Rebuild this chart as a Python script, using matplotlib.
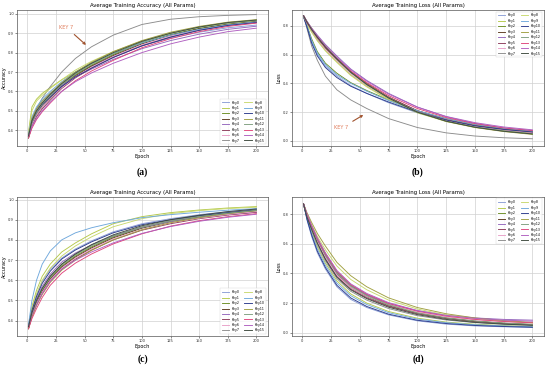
import matplotlib
matplotlib.use('Agg')
import matplotlib.pyplot as plt

# 采样的 epoch 位置
epochs = [1, 4, 8, 13, 20, 30, 42, 56, 75, 100, 125, 150, 175, 200]

keys = ['Key%d' % i for i in range(16)]
colors = ['#8c9fd6', '#b5c94a', '#6b8e23', '#5c3a1e', '#9467bd', '#8c3b5a', '#e8a0c8', '#8c8c8c',
          '#c8d96f', '#6fa8dc', '#2b3a8c', '#a0a040', '#7f9f7f', '#e0457b', '#b05fc0', '#3d4a3d']

# (a) 准确率
acc_a = [
    [0.38, 0.46, 0.51, 0.55, 0.59, 0.64, 0.69, 0.73, 0.78, 0.835, 0.875, 0.905, 0.928, 0.942],
    [0.39, 0.52, 0.56, 0.59, 0.62, 0.66, 0.70, 0.745, 0.795, 0.85, 0.89, 0.92, 0.942, 0.955],
    [0.37, 0.44, 0.49, 0.53, 0.57, 0.63, 0.685, 0.735, 0.79, 0.85, 0.893, 0.925, 0.948, 0.962],
    [0.36, 0.43, 0.48, 0.52, 0.565, 0.625, 0.68, 0.73, 0.785, 0.845, 0.89, 0.923, 0.945, 0.96],
    [0.37, 0.45, 0.50, 0.54, 0.58, 0.63, 0.675, 0.715, 0.765, 0.82, 0.862, 0.895, 0.92, 0.936],
    [0.36, 0.42, 0.47, 0.51, 0.555, 0.615, 0.67, 0.72, 0.775, 0.835, 0.88, 0.915, 0.94, 0.955],
    [0.37, 0.43, 0.48, 0.52, 0.565, 0.62, 0.675, 0.725, 0.78, 0.84, 0.885, 0.918, 0.942, 0.957],
    [0.37, 0.45, 0.51, 0.565, 0.625, 0.70, 0.77, 0.83, 0.89, 0.945, 0.972, 0.985, 0.992, 0.996],
    [0.38, 0.50, 0.55, 0.58, 0.615, 0.66, 0.71, 0.755, 0.805, 0.86, 0.90, 0.93, 0.952, 0.966],
    [0.38, 0.47, 0.52, 0.56, 0.60, 0.65, 0.70, 0.745, 0.795, 0.85, 0.89, 0.92, 0.943, 0.958],
    [0.37, 0.44, 0.49, 0.53, 0.57, 0.625, 0.675, 0.72, 0.775, 0.835, 0.88, 0.915, 0.94, 0.955],
    [0.37, 0.46, 0.51, 0.55, 0.59, 0.645, 0.70, 0.75, 0.805, 0.862, 0.905, 0.935, 0.957, 0.97],
    [0.36, 0.44, 0.49, 0.535, 0.58, 0.635, 0.69, 0.74, 0.795, 0.855, 0.898, 0.93, 0.952, 0.966],
    [0.36, 0.41, 0.455, 0.495, 0.54, 0.60, 0.655, 0.705, 0.76, 0.825, 0.872, 0.908, 0.935, 0.952],
    [0.37, 0.42, 0.46, 0.50, 0.545, 0.60, 0.65, 0.695, 0.745, 0.80, 0.845, 0.88, 0.908, 0.926],
    [0.37, 0.45, 0.50, 0.54, 0.585, 0.64, 0.695, 0.745, 0.80, 0.858, 0.90, 0.932, 0.955, 0.968],
]

# (b) 损失
loss_b = [
    [0.87, 0.79, 0.69, 0.60, 0.52, 0.45, 0.385, 0.33, 0.265, 0.195, 0.14, 0.10, 0.075, 0.06],
    [0.87, 0.81, 0.76, 0.70, 0.63, 0.55, 0.46, 0.38, 0.29, 0.20, 0.14, 0.10, 0.075, 0.056],
    [0.87, 0.80, 0.71, 0.62, 0.54, 0.47, 0.405, 0.35, 0.285, 0.21, 0.155, 0.113, 0.085, 0.068],
    [0.86, 0.82, 0.77, 0.71, 0.645, 0.565, 0.475, 0.395, 0.302, 0.208, 0.145, 0.105, 0.078, 0.058],
    [0.87, 0.83, 0.785, 0.735, 0.67, 0.59, 0.50, 0.42, 0.33, 0.235, 0.168, 0.122, 0.09, 0.07],
    [0.87, 0.825, 0.78, 0.725, 0.655, 0.575, 0.485, 0.40, 0.305, 0.21, 0.148, 0.106, 0.078, 0.058],
    [0.87, 0.815, 0.765, 0.705, 0.635, 0.555, 0.465, 0.385, 0.295, 0.203, 0.142, 0.102, 0.076, 0.057],
    [0.87, 0.78, 0.66, 0.56, 0.45, 0.355, 0.285, 0.225, 0.155, 0.093, 0.056, 0.034, 0.022, 0.015],
    [0.87, 0.81, 0.755, 0.695, 0.625, 0.545, 0.455, 0.375, 0.285, 0.195, 0.135, 0.095, 0.068, 0.05],
    [0.87, 0.80, 0.70, 0.61, 0.53, 0.46, 0.40, 0.345, 0.28, 0.21, 0.155, 0.115, 0.088, 0.07],
    [0.86, 0.79, 0.68, 0.59, 0.51, 0.44, 0.38, 0.33, 0.27, 0.20, 0.145, 0.105, 0.08, 0.062],
    [0.87, 0.83, 0.78, 0.725, 0.66, 0.575, 0.48, 0.395, 0.30, 0.20, 0.135, 0.093, 0.065, 0.045],
    [0.86, 0.82, 0.77, 0.715, 0.65, 0.565, 0.475, 0.39, 0.298, 0.20, 0.138, 0.097, 0.07, 0.05],
    [0.87, 0.82, 0.775, 0.72, 0.65, 0.57, 0.485, 0.405, 0.315, 0.225, 0.162, 0.12, 0.09, 0.072],
    [0.87, 0.83, 0.78, 0.73, 0.66, 0.58, 0.495, 0.415, 0.325, 0.235, 0.17, 0.127, 0.097, 0.077],
    [0.87, 0.825, 0.775, 0.72, 0.652, 0.57, 0.478, 0.392, 0.298, 0.20, 0.137, 0.095, 0.067, 0.048],
]

# (c) 准确率
acc_c = [
    [0.38, 0.46, 0.53, 0.595, 0.655, 0.71, 0.755, 0.795, 0.84, 0.88, 0.905, 0.925, 0.94, 0.952],
    [0.37, 0.47, 0.55, 0.62, 0.68, 0.74, 0.785, 0.83, 0.88, 0.915, 0.935, 0.948, 0.958, 0.965],
    [0.37, 0.43, 0.49, 0.55, 0.61, 0.67, 0.72, 0.765, 0.815, 0.862, 0.892, 0.915, 0.932, 0.945],
    [0.36, 0.43, 0.49, 0.545, 0.605, 0.665, 0.715, 0.76, 0.81, 0.858, 0.89, 0.913, 0.93, 0.944],
    [0.37, 0.45, 0.51, 0.57, 0.63, 0.69, 0.735, 0.775, 0.82, 0.862, 0.89, 0.91, 0.925, 0.937],
    [0.36, 0.42, 0.48, 0.535, 0.595, 0.655, 0.705, 0.75, 0.80, 0.848, 0.88, 0.905, 0.923, 0.937],
    [0.37, 0.43, 0.485, 0.54, 0.60, 0.66, 0.71, 0.755, 0.805, 0.852, 0.885, 0.908, 0.926, 0.94],
    [0.37, 0.44, 0.50, 0.56, 0.62, 0.68, 0.73, 0.775, 0.82, 0.865, 0.895, 0.918, 0.935, 0.948],
    [0.37, 0.46, 0.53, 0.60, 0.66, 0.72, 0.77, 0.815, 0.865, 0.905, 0.93, 0.945, 0.955, 0.962],
    [0.38, 0.50, 0.60, 0.68, 0.745, 0.80, 0.835, 0.86, 0.885, 0.91, 0.925, 0.937, 0.947, 0.955],
    [0.37, 0.45, 0.52, 0.585, 0.645, 0.705, 0.75, 0.79, 0.835, 0.875, 0.90, 0.92, 0.935, 0.948],
    [0.36, 0.42, 0.475, 0.53, 0.59, 0.65, 0.70, 0.748, 0.80, 0.85, 0.885, 0.91, 0.93, 0.945],
    [0.37, 0.44, 0.50, 0.555, 0.615, 0.675, 0.725, 0.77, 0.818, 0.862, 0.893, 0.915, 0.932, 0.946],
    [0.36, 0.41, 0.46, 0.515, 0.575, 0.635, 0.685, 0.73, 0.78, 0.83, 0.868, 0.895, 0.915, 0.93],
    [0.37, 0.43, 0.48, 0.535, 0.595, 0.655, 0.70, 0.74, 0.785, 0.832, 0.866, 0.892, 0.912, 0.927],
    [0.37, 0.44, 0.50, 0.56, 0.62, 0.68, 0.73, 0.776, 0.825, 0.87, 0.90, 0.922, 0.94, 0.953],
]

# (d) 损失
loss_d = [
    [0.87, 0.76, 0.65, 0.54, 0.43, 0.31, 0.225, 0.17, 0.12, 0.08, 0.058, 0.046, 0.04, 0.036],
    [0.87, 0.78, 0.685, 0.58, 0.47, 0.35, 0.262, 0.20, 0.143, 0.098, 0.072, 0.057, 0.048, 0.042],
    [0.87, 0.79, 0.715, 0.63, 0.53, 0.41, 0.32, 0.255, 0.19, 0.135, 0.10, 0.078, 0.064, 0.055],
    [0.86, 0.785, 0.71, 0.62, 0.515, 0.395, 0.305, 0.243, 0.182, 0.13, 0.097, 0.076, 0.062, 0.053],
    [0.87, 0.79, 0.71, 0.62, 0.515, 0.40, 0.315, 0.255, 0.197, 0.148, 0.118, 0.10, 0.09, 0.085],
    [0.87, 0.78, 0.70, 0.61, 0.50, 0.38, 0.295, 0.235, 0.178, 0.128, 0.097, 0.077, 0.064, 0.055],
    [0.87, 0.785, 0.705, 0.615, 0.51, 0.39, 0.305, 0.245, 0.188, 0.138, 0.107, 0.087, 0.074, 0.066],
    [0.87, 0.775, 0.69, 0.595, 0.485, 0.365, 0.28, 0.22, 0.163, 0.115, 0.086, 0.068, 0.057, 0.05],
    [0.87, 0.80, 0.73, 0.65, 0.56, 0.45, 0.36, 0.29, 0.22, 0.16, 0.12, 0.095, 0.078, 0.066],
    [0.87, 0.77, 0.67, 0.565, 0.455, 0.335, 0.25, 0.19, 0.135, 0.092, 0.068, 0.054, 0.046, 0.04],
    [0.87, 0.765, 0.66, 0.55, 0.44, 0.32, 0.235, 0.177, 0.125, 0.084, 0.062, 0.049, 0.042, 0.037],
    [0.87, 0.81, 0.745, 0.67, 0.585, 0.475, 0.385, 0.31, 0.235, 0.17, 0.128, 0.10, 0.082, 0.07],
    [0.87, 0.79, 0.715, 0.63, 0.525, 0.405, 0.315, 0.25, 0.187, 0.133, 0.10, 0.079, 0.065, 0.056],
    [0.87, 0.795, 0.72, 0.635, 0.535, 0.415, 0.325, 0.26, 0.198, 0.145, 0.112, 0.09, 0.076, 0.067],
    [0.87, 0.80, 0.725, 0.64, 0.54, 0.42, 0.33, 0.265, 0.203, 0.15, 0.117, 0.097, 0.085, 0.078],
    [0.87, 0.78, 0.70, 0.605, 0.495, 0.375, 0.29, 0.23, 0.172, 0.122, 0.09, 0.07, 0.058, 0.05],
]

fig = plt.figure(figsize=(5.5, 3.68), dpi=100)
fig.patch.set_facecolor('white')

panels = [
    # 数据, 位置, 标题, y标签, y范围, y刻度, 图例位置, 说明文字
    (acc_a, [0.031, 0.603, 0.456, 0.370], 'Average Training Accuracy (All Params)', 'Accuracy',
     (0.318, 1.02), [0.4, 0.5, 0.6, 0.7, 0.8, 0.9, 1.0], 'lower right', '(a)', 0.533),
    (loss_b, [0.531, 0.603, 0.458, 0.370], 'Average Training Loss (All Params)', 'Loss',
     (-0.036, 0.91), [0.0, 0.2, 0.4, 0.6, 0.8], 'upper right', '(b)', 0.533),
    (acc_c, [0.031, 0.087, 0.456, 0.378], 'Average Training Accuracy (All Params)', 'Accuracy',
     (0.324, 1.013), [0.4, 0.5, 0.6, 0.7, 0.8, 0.9, 1.0], 'lower right', '(c)', 0.024),
    (loss_d, [0.531, 0.087, 0.458, 0.378], 'Average Training Loss (All Params)', 'Loss',
     (-0.022, 0.917), [0.0, 0.2, 0.4, 0.6, 0.8], 'upper right', '(d)', 0.024),
]

axes = []
for data, pos, title, ylabel, ylim, yticks, loc, cap, cap_y in panels:
    ax = fig.add_axes(pos)
    for i, series in enumerate(data):
        ax.plot(epochs, series, color=colors[i], linewidth=0.65, label=keys[i])
    ax.set_xlim(-9, 210)
    ax.set_ylim(*ylim)
    ax.set_xticks([0, 25, 50, 75, 100, 125, 150, 175, 200])
    ax.set_yticks(yticks)
    ax.set_yticklabels(['%.1f' % v for v in yticks])
    ax.tick_params(axis='both', labelsize=2.6, length=1.2, width=0.4, pad=1, colors='#333333')
    ax.grid(True, color='#d0d0d0', linewidth=0.5)
    for s in ax.spines.values():
        s.set_linewidth(0.5)
        s.set_color('#555555')
    ax.set_title(title, fontsize=3.9, pad=2)
    ax.set_xlabel('Epoch', fontsize=3.6, labelpad=0.5)
    ax.set_ylabel(ylabel, fontsize=3.6, labelpad=1)
    leg = ax.legend(loc=loc, ncol=2, fontsize=2.3, frameon=True, handlelength=2.3,
                    borderpad=0.6, labelspacing=0.45, columnspacing=1.5)
    leg.get_frame().set_linewidth(0.3)
    cx = pos[0] + pos[2] / 2
    fig.text(cx, cap_y, cap, ha='center', va='center', fontsize=7, fontweight='bold',
             family=['Liberation Serif', 'DejaVu Serif'])
    axes.append(ax)

# KEY 7 标注
axes[0].annotate('KEY 7', xy=(53, 0.83), xytext=(34, 0.93), fontsize=3.6, color='#e07b5a',
                 ha='center', va='center',
                 arrowprops=dict(arrowstyle='->', color='#a0522d', lw=0.8))
axes[1].annotate('KEY 7', xy=(55, 0.19), xytext=(34, 0.09), fontsize=3.6, color='#e07b5a',
                 ha='center', va='center',
                 arrowprops=dict(arrowstyle='->', color='#a0522d', lw=0.8))

fig.savefig('out.png', dpi=100, facecolor='white')
